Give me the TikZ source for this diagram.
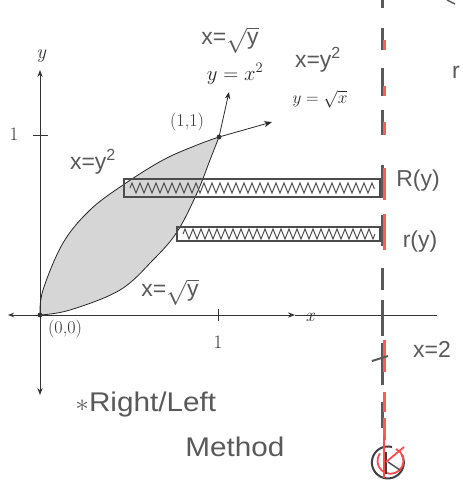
\documentclass[tikz,border=0pt]{standalone}
\usepackage{fontspec}
\setsansfont{Liberation Sans}
\usetikzlibrary{decorations.pathmorphing,arrows.meta}
\begin{document}
\begin{tikzpicture}[x=1pt,y=-1pt,
  every node/.style={inner sep=1pt},
  axis/.style={line width=1pt,black!80},
  curve/.style={line width=0.8pt,black!85},
  hand/.style={font=\sffamily\fontsize{23}{23}\selectfont,text=black!65},
  big/.style={font=\sffamily\fontsize{27}{27}\selectfont,text=black!65,xscale=1.1},
  small/.style={font=\fontsize{18}{18}\selectfont,text=black!80},
  bar/.style={line width=2.4pt,draw=black!70},
  zz/.style={black!70,line width=1pt,decorate,decoration={zigzag,amplitude=5pt,segment length=8pt}},
  gseg/.style={line width=3pt,black!65},
  rseg/.style={line width=2.4pt,red!65}]
\useasboundingbox (0,0) rectangle (463,482);
% coordinates
\coordinate (O) at (40,315);
\coordinate (P) at (219,137);
\coordinate (xl) at (8,315);
\coordinate (xr) at (437,315);
\coordinate (xa) at (295,315);
\coordinate (yb) at (40,395);
\coordinate (yt) at (40,70);
\coordinate (a1) at (229,92);
\coordinate (a2) at (272,122);
% shaded region
\fill[black!16] plot[smooth,tension=0.6] coordinates {(40,315) (43,290) (63,243) (90,210) (123,185) (163,160) (197,145) (219,137)}
  -- plot[smooth,tension=0.6] coordinates {(219,137) (210,160) (197,193) (177,232) (153,260) (120,290) (70,310) (40,315)} -- cycle;
% axes
\draw[axis,-{Stealth[length=7pt]}] (O) -- (yt);
\draw[axis,-{Stealth[length=7pt]}] (O) -- (yb);
\draw[axis,-{Stealth[length=6pt]}] (O) -- (xl);
\draw[axis,-{Stealth[length=7pt]}] (O) -- (xa);
\draw[axis] (xa) -- (xr);
\draw[axis] (218,309) -- (218,321);
\draw[axis] (33,135) -- (48,135);
% curves
\draw[curve] plot[smooth,tension=0.6] coordinates {(40,315) (43,290) (63,243) (90,210) (123,185) (163,160) (197,145) (219,137)};
\draw[curve,-{Stealth[length=8pt]}] (P) -- (a2);
\draw[curve] plot[smooth,tension=0.6] coordinates {(40,315) (70,310) (120,290) (153,260) (177,232) (197,193) (210,160) (219,137)};
\draw[curve,-{Stealth[length=7pt]}] (P) -- (a1);
\fill[black!80] (O) circle (2.4pt);
\fill[black!80] (P) circle (2.4pt);
% dashed axis of rotation (grey and red strokes)
\foreach \a/\b in {0/8,28/50,68/96,110/135,165/198,215/246,268/290,300/336,343/385,402/428}
  \draw[gseg] (382,\a) -- (382,\b);
\foreach \a/\b in {40/50,86/96,122/135,168/200,214/250,340/372,392/412,418/440}
  \draw[rseg] (384.5,\a) -- (384.5,\b);
\draw[line width=2pt,black!65] (372,361) -- (388,356);
\draw[line width=1.5pt,black!65] (447,0) -- (455,4);
% bars
\draw[bar] (124,179) rectangle (380,197);
\draw[zz] (130,188) -- (375,188);
\draw[bar] (177,227) rectangle (380,241);
\draw[zz] (183,234) -- (375,234);
% circle symbol
\draw[line width=2pt,black!75] (392,447) arc[start angle=75,end angle=390,radius=16pt];
\draw[line width=1.8pt,red!70] (396,449) arc[start angle=65,end angle=-215,radius=13pt];
\draw[line width=1.8pt,red!70] (384,436) -- (384,478);
\draw[line width=1.8pt,black!75] (386,452) -- (386,474);
\draw[line width=1.8pt,red!70] (386,462) -- (404,447);
\draw[line width=1.5pt,black!70] (388,462) -- (400,470);
% labels
\node[font=\itshape\fontsize{20}{20}\selectfont,text=black!80] (ylab) at (41,56) {y};
\node[font=\fontsize{19}{19}\selectfont,text=black!80] (one1) at (14,134) {1};
\node[small] (p11) at (187,122) {(1,1)};
\node[hand] (t1) at (230,40) {x=$\sqrt{\mathsf{y}}$};
\node[font=\fontsize{20}{20}\selectfont,text=black!85] (t2) at (235,74) {$y=x^2$};
\node[hand] (t3) at (318,60) {x=y$^{\mathsf{2}}$};
\node[font=\fontsize{16}{16}\selectfont,text=black!85] (t4) at (320,99) {$y=\sqrt{x}$};
\node[hand] (t5) at (93,162) {x=y$^{\mathsf{2}}$};
\node[hand] (t6) at (170,292) {x=$\sqrt{\mathsf{y}}$};
\node[small] (t7) at (65,329) {(0,0)};
\node[font=\fontsize{19}{19}\selectfont,text=black!80] (one2) at (218,342) {1};
\node[font=\itshape\fontsize{19}{19}\selectfont,text=black!80] (xlab) at (310,317) {x};
\node[hand] (Ry) at (418,181) {R(y)};
\node[hand] (ry) at (420,242) {r(y)};
\node[hand] (x2) at (432,349) {x=2};
\node[hand] (rr) at (456,72) {r};
\node[big,anchor=west] (m1) at (74,405) {$\ast$Right/Left};
\node[big,anchor=west] (m2) at (184,447) {Method};
\end{tikzpicture}
\end{document}
